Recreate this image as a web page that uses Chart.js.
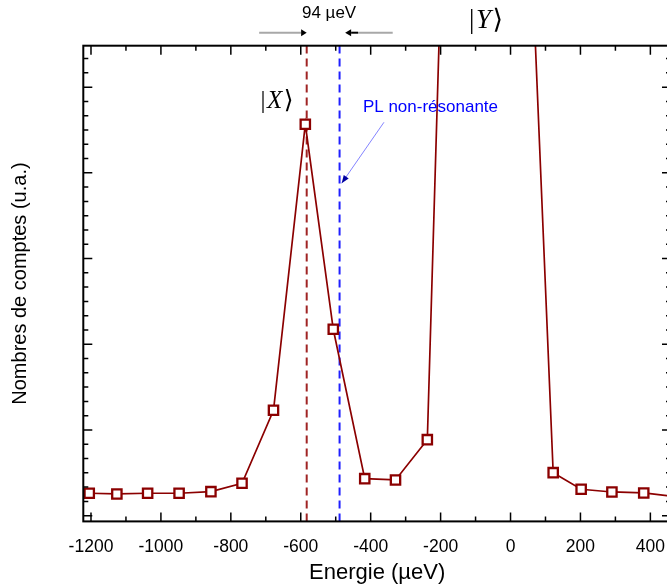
<!DOCTYPE html>
<html><head><meta charset="utf-8">
<script src="https://cdn.jsdelivr.net/npm/chart.js@4.4.1/dist/chart.umd.min.js"></script>
<style>html,body{margin:0;padding:0;overflow:hidden;background:#fff;width:667px;height:588px}</style>
</head><body>
<canvas id="c" width="680" height="588" style="width:680px;height:588px;display:block"></canvas>
<script>
// ---- data ----
const energies = [-1205,-1126,-1038,-948,-857,-768,-678,-587,-507,-417,-329,-238,-148,-58,32,122,202,290,381,470];
const counts   = [157,152,157,157,168,227,738,2740,1305,259,250,532,8000,11000,5600,301,185,166,159,133];
const xTickLabels = [-1200,-1000,-800,-600,-400,-200,0,200,400];
const xMinorTicks = [-1100,-900,-700,-500,-300,-100,100,300];
const yMajorTicks = [0,600,1200,1800,2400,3000];
const yMinorTicks = [];
for (let v = 100; v <= 3200; v += 100) if (v % 600 !== 0) yMinorTicks.push(v);
const xResonanceX = -583;   // |X> line
const xNonResPL  = -489;    // PL non-résonante line
const xRange = [-1222, 459];
const yRange = [-40, 3290];

const FONT = "'Liberation Sans', Arial, sans-serif";
const SERIF = "'Liberation Serif', 'DejaVu Serif', serif";

const deco = {
  id: 'deco',
  afterDatasetsDraw(chart) {
    const {ctx, chartArea: a, scales: {x, y}} = chart;
    ctx.save();
    // frame
    ctx.strokeStyle = '#000'; ctx.lineWidth = 2;
    ctx.strokeRect(a.left, a.top, a.right - a.left, a.bottom - a.top);
    // ticks (inward)
    ctx.lineWidth = 1.5;
    const tickX = (v, len) => {
      const px = x.getPixelForValue(v);
      ctx.beginPath();
      ctx.moveTo(px, a.bottom); ctx.lineTo(px, a.bottom - len);
      ctx.moveTo(px, a.top); ctx.lineTo(px, a.top + len);
      ctx.stroke();
    };
    const tickY = (v, len) => {
      const py = y.getPixelForValue(v);
      ctx.beginPath();
      ctx.moveTo(a.left, py); ctx.lineTo(a.left + len, py);
      ctx.moveTo(a.right, py); ctx.lineTo(a.right - len, py);
      ctx.stroke();
    };
    xTickLabels.forEach(v => tickX(v, 9));
    xMinorTicks.forEach(v => tickX(v, 5));
    yMajorTicks.forEach(v => tickY(v, 9));
    yMinorTicks.forEach(v => tickY(v, 5));

    const P = (vx, vy) => [x.getPixelForValue(vx), y.getPixelForValue(vy)];
    // "94 µeV" label + arrows
    ctx.fillStyle = '#000';
    ctx.font = '17px ' + FONT;
    ctx.textAlign = 'center'; ctx.textBaseline = 'middle';
    let [tx, ty] = P(-519, 3520);
    ctx.fillText('94 \u00b5eV', tx, ty);
    // left arrow
    let [l0, ay] = P(-719, 3381);
    let [lb] = P(-599, 0), [lt] = P(-583, 0);
    ctx.strokeStyle = '#a8a8a8'; ctx.lineWidth = 2;
    ctx.beginPath(); ctx.moveTo(l0, ay); ctx.lineTo(lb, ay); ctx.stroke();
    ctx.fillStyle = '#000';
    ctx.beginPath(); ctx.moveTo(lt, ay); ctx.lineTo(lb, ay - 3.5); ctx.lineTo(lb, ay + 3.5); ctx.closePath(); ctx.fill();
    // right arrow
    let [rt] = P(-473, 0), [rb] = P(-456, 0), [rk] = P(-436, 0), [r0] = P(-337, 0);
    ctx.beginPath(); ctx.moveTo(r0, ay); ctx.lineTo(rk, ay); ctx.stroke();
    ctx.strokeStyle = '#000';
    ctx.beginPath(); ctx.moveTo(rk, ay); ctx.lineTo(rb, ay); ctx.stroke();
    ctx.beginPath(); ctx.moveTo(rt, ay); ctx.lineTo(rb, ay - 3.5); ctx.lineTo(rb, ay + 3.5); ctx.closePath(); ctx.fill();

    // kets
    const ket = (letter, vx, vy, size) => {
      const [cx, cy] = P(vx, vy);
      const up = size + 'px ' + SERIF, it = 'italic ' + size + 'px ' + SERIF;
      ctx.font = up; const w1 = ctx.measureText('|').width, w3 = ctx.measureText('\u27e9').width;
      ctx.font = it; const w2 = ctx.measureText(letter).width;
      const gap = size * 0.06;
      const tot = w1 + w2 + w3 + 2 * gap;
      let sx = cx - tot / 2;
      ctx.textAlign = 'left'; ctx.textBaseline = 'middle'; ctx.fillStyle = '#000';
      ctx.font = up; ctx.fillText('|', sx, cy); sx += w1 + gap;
      ctx.font = it; ctx.fillText(letter, sx, cy); sx += w2 + gap;
      ctx.font = up; ctx.fillText('\u27e9', sx, cy);
    };
    ket('Y', -70, 3467, 27);
    ket('X', -668, 2903, 25);

    // PL non-résonante
    ctx.font = '17px ' + FONT; ctx.fillStyle = '#0000ff';
    ctx.textAlign = 'center'; ctx.textBaseline = 'middle';
    [tx, ty] = P(-229, 2858);
    ctx.fillText('PL non-r\u00e9sonante', tx, ty);
    let [s0x, s0y] = P(-362, 2754), [s1x, s1y] = P(-483, 2327);
    ctx.strokeStyle = 'rgba(60,60,255,0.8)'; ctx.lineWidth = 0.8;
    ctx.beginPath(); ctx.moveTo(s0x, s0y); ctx.lineTo(s1x, s1y); ctx.stroke();
    const ang = Math.atan2(s1y - s0y, s1x - s0x);
    ctx.fillStyle = '#0000a0';
    ctx.beginPath();
    ctx.moveTo(s1x, s1y);
    ctx.lineTo(s1x - 8 * Math.cos(ang) + 3 * Math.sin(ang), s1y - 8 * Math.sin(ang) - 3 * Math.cos(ang));
    ctx.lineTo(s1x - 8 * Math.cos(ang) - 3 * Math.sin(ang), s1y - 8 * Math.sin(ang) + 3 * Math.cos(ang));
    ctx.closePath(); ctx.fill();
    ctx.restore();
  }
};

new Chart(document.getElementById('c'), {
  type: 'scatter',
  data: {
    datasets: [
      {
        data: [{x: xResonanceX, y: yRange[0]}, {x: xResonanceX, y: yRange[1]}],
        showLine: true, borderColor: '#a02424', borderWidth: 2, borderDash: [8, 5],
        pointRadius: 0, order: 3
      },
      {
        data: [{x: xNonResPL, y: yRange[0]}, {x: xNonResPL, y: yRange[1]}],
        showLine: true, borderColor: '#1f1fff', borderWidth: 2, borderDash: [8, 5],
        pointRadius: 0, order: 2
      },
      {
        data: energies.map((e, i) => ({x: e, y: counts[i]})),
        showLine: true, borderColor: '#8b0000', borderWidth: 1.7,
        pointStyle: 'rect', pointRadius: 6.6, pointBorderWidth: 2.3,
        pointBorderColor: '#8b0000', pointBackgroundColor: '#ffffff', order: 1
      }
    ]
  },
  options: {
    responsive: false, animation: false, devicePixelRatio: 1,
    layout: {padding: {top: 45.7, right: 9, bottom: 0, left: 0}},
    plugins: {legend: {display: false}, tooltip: {enabled: false}},
    scales: {
      x: {
        type: 'linear', min: xRange[0], max: xRange[1],
        grid: {display: false}, border: {display: false},
        afterBuildTicks: s => { s.ticks = xTickLabels.map(v => ({value: v})); },
        afterFit: s => { s.height = 66.6; },
        ticks: {color: '#000', padding: 7.6, font: {family: FONT, size: 17.5}, callback: v => String(v), maxRotation: 0, autoSkip: false},
        title: {display: true, text: 'Energie (\u00b5eV)', color: '#000', font: {family: FONT, size: 22}, padding: {top: 0, bottom: 2.3}}
      },
      y: {
        type: 'linear', min: yRange[0], max: yRange[1],
        grid: {display: false}, border: {display: false},
        ticks: {display: false},
        afterFit: s => { s.width = 83.3; },
        title: {display: true, text: 'Nombres de comptes (u.a.)', color: '#000', font: {family: FONT, size: 20}, padding: {top: 8.5, bottom: 0}}
      }
    }
  },
  plugins: [deco]
});
</script>
</body></html>
